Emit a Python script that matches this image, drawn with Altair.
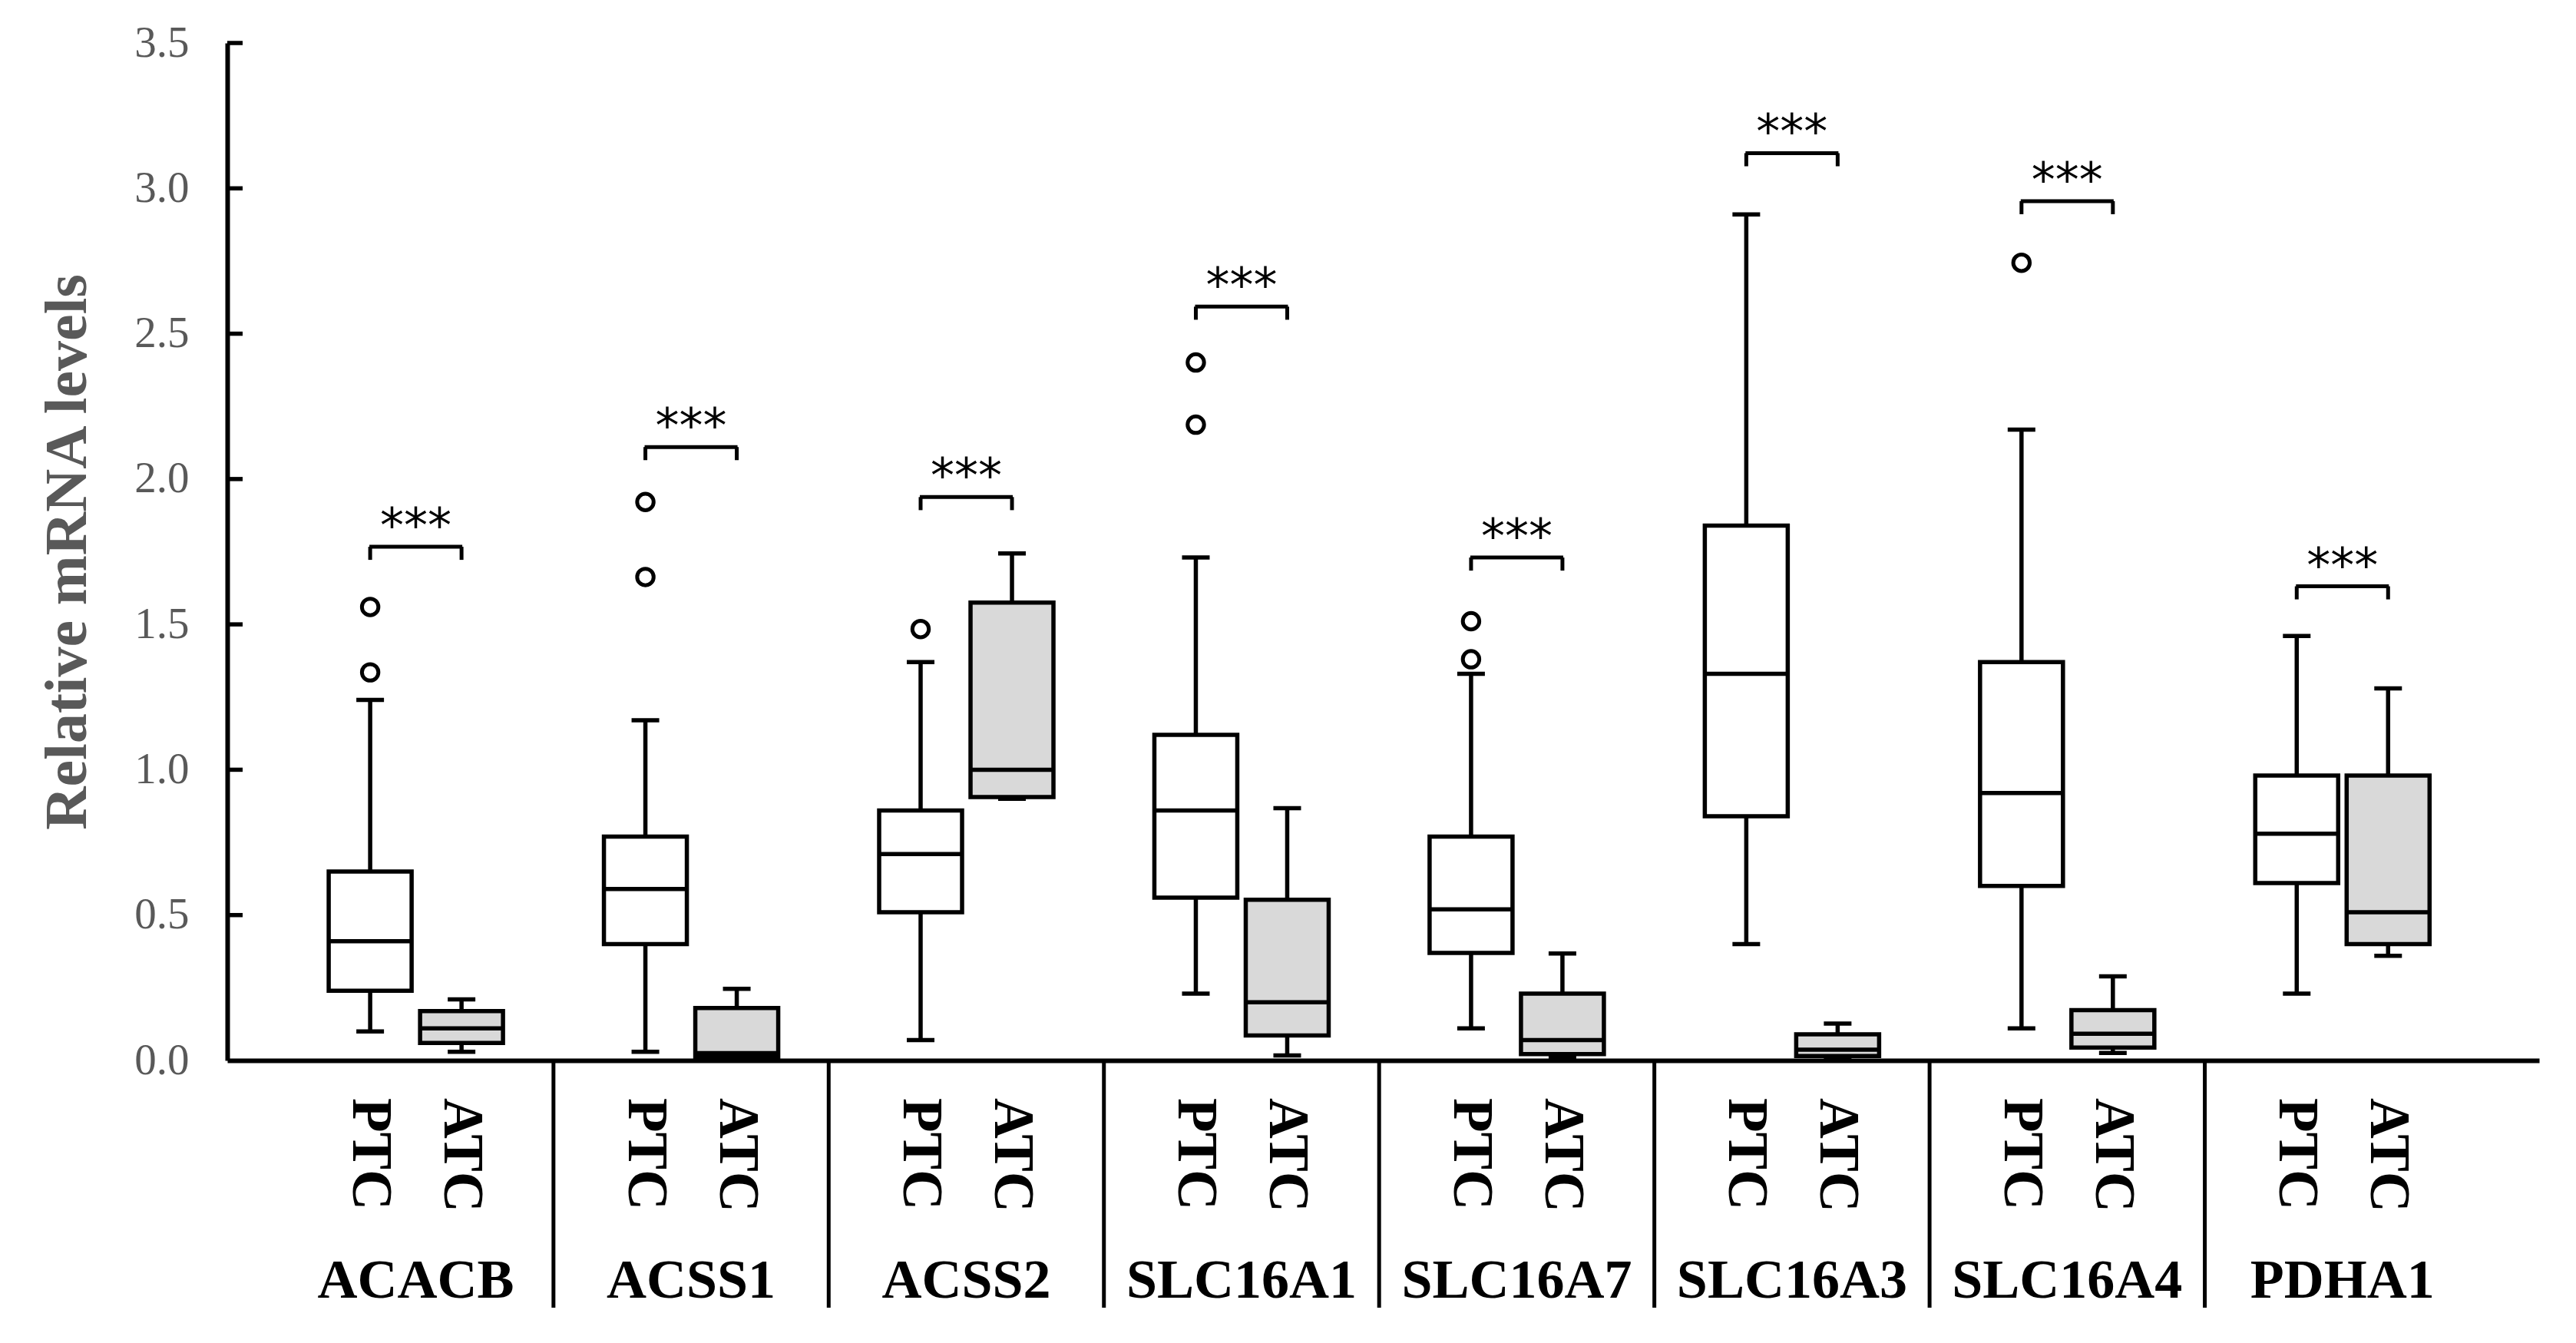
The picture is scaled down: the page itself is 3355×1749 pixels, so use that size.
import altair as alt
import pandas as pd

genes = ["ACACB", "ACSS1", "ACSS2", "SLC16A1", "SLC16A7", "SLC16A3", "SLC16A4", "PDHA1"]
groups = ["PTC", "ATC"]

# box statistics
ptc_low = [0.10, 0.03, 0.07, 0.23, 0.11, 0.40, 0.11, 0.23]
ptc_q1 = [0.24, 0.40, 0.51, 0.56, 0.37, 0.84, 0.60, 0.61]
ptc_med = [0.41, 0.59, 0.71, 0.86, 0.52, 1.33, 0.92, 0.78]
ptc_q3 = [0.65, 0.77, 0.86, 1.12, 0.77, 1.84, 1.37, 0.98]
ptc_high = [1.24, 1.17, 1.37, 1.73, 1.33, 2.91, 2.17, 1.46]

atc_low = [0.03, 0.005, 0.90, 0.017, 0.01, 0.008, 0.026, 0.36]
atc_q1 = [0.06, 0.012, 0.906, 0.086, 0.022, 0.015, 0.044, 0.40]
atc_med = [0.11, 0.025, 1.00, 0.20, 0.07, 0.037, 0.092, 0.51]
atc_q3 = [0.17, 0.18, 1.575, 0.553, 0.23, 0.09, 0.173, 0.98]
atc_high = [0.21, 0.246, 1.744, 0.868, 0.368, 0.127, 0.289, 1.28]

outlier_gene = ["ACACB", "ACACB", "ACSS1", "ACSS1", "ACSS2", "SLC16A1", "SLC16A1", "SLC16A7", "SLC16A7", "SLC16A4"]
outlier_group = ["PTC"] * 10
outlier_value = [1.335, 1.56, 1.663, 1.921, 1.484, 2.187, 2.401, 1.38, 1.511, 2.744]

bracket_level = [1.767, 2.11, 1.938, 2.593, 1.730, 3.121, 2.956, 1.631]
sig_label = ["***"] * 8

tick_values = [0.0, 0.5, 1.0, 1.5, 2.0, 2.5, 3.0, 3.5]

# ---- tables ----
rows = []
for i, g in enumerate(genes):
    rows.append(dict(gene=g, group="PTC", low=ptc_low[i], q1=ptc_q1[i], med=ptc_med[i], q3=ptc_q3[i], high=ptc_high[i]))
    rows.append(dict(gene=g, group="ATC", low=atc_low[i], q1=atc_q1[i], med=atc_med[i], q3=atc_q3[i], high=atc_high[i]))
box_df = pd.DataFrame(rows)
out_df = pd.DataFrame({"gene": outlier_gene, "group": outlier_group, "value": outlier_value})
sig_df = pd.DataFrame({"gene": genes, "bracket": bracket_level, "label": sig_label})
drop_df = pd.DataFrame([dict(gene=g, group=gr, bracket=b) for g, b in zip(genes, bracket_level) for gr in groups])
tick_df = pd.DataFrame({"v": tick_values[1:]})
div_df = pd.DataFrame({"gene": genes[1:]})
lab_df = pd.DataFrame([dict(gene=g, group=gr) for g in genes for gr in groups])
gene_df = pd.DataFrame({"gene": genes})

W, H = 3011, 1325
LW = 5.5

x_scale = alt.Scale(domain=genes, paddingInner=0, paddingOuter=0.2, align=0.463)
xo_scale = alt.Scale(domain=groups, paddingInner=0, paddingOuter=0.506)
y_scale = alt.Scale(domain=[0, 3.5], nice=False)

x_axis = alt.Axis(labels=False, ticks=False, title=None, domainColor="black", domainWidth=6, grid=False)
y_axis = alt.Axis(
    values=tick_values, format=".1f", ticks=False, tickSize=0, grid=False,
    labelFont="Liberation Serif", labelFontSize=57, labelColor="#595959", labelPadding=50,
    domainColor="black", domainWidth=6,
    title="Relative mRNA levels", titleFont="Liberation Serif", titleFontSize=78,
    titleFontWeight="bold", titleColor="#595959", titleX=-185, titleY=H / 2,
    titleAngle=270, titleAlign="center", titleBaseline="alphabetic",
)


def X(**kw):
    return alt.X("gene:N", scale=x_scale, axis=x_axis, sort=genes, **kw)


XO = alt.XOffset("group:N", scale=xo_scale, sort=groups)


def Y(field):
    return alt.Y(field, scale=y_scale, axis=y_axis)


whisk = alt.Chart(box_df).mark_rule(color="black", strokeWidth=LW).encode(
    x=X(), xOffset=XO, y=Y("low:Q"), y2="high:Q")

caps = alt.Chart(box_df).transform_fold(["low", "high"], as_=["stat", "val"]).mark_tick(
    color="black", thickness=LW, size=36, orient="horizontal", opacity=1).encode(
    x=X(), xOffset=XO, y=Y("val:Q"))

boxes = alt.Chart(box_df).mark_bar(size=108, stroke="black", strokeWidth=LW, opacity=1).encode(
    x=X(), xOffset=XO, y=Y("q1:Q"), y2="q3:Q",
    fill=alt.Fill("group:N", scale=alt.Scale(domain=groups, range=["#ffffff", "#d9d9d9"]), legend=None))

medians = alt.Chart(box_df).mark_tick(color="black", thickness=LW, size=108, orient="horizontal", opacity=1).encode(
    x=X(), xOffset=XO, y=Y("med:Q"))

outs = alt.Chart(out_df).mark_point(shape="circle", filled=False, size=460, strokeWidth=5,
                                     color="black", opacity=1).encode(
    x=X(), xOffset=XO, y=Y("value:Q"))

br_h = alt.Chart(sig_df).mark_tick(color="black", thickness=5, size=121, orient="horizontal", opacity=1).encode(
    x=X(), y=Y("bracket:Q"))

br_v = alt.Chart(drop_df).transform_calculate(b2="datum.bracket - 0.045").mark_rule(
    color="black", strokeWidth=5).encode(x=X(), xOffset=XO, y=Y("bracket:Q"), y2="b2:Q")

stars = alt.Chart(sig_df).mark_text(font="DejaVu Sans", fontSize=62, baseline="alphabetic",
                                     dy=-6, color="black").encode(
    x=X(), y=Y("bracket:Q"), text="label:N")

yticks = alt.Chart(tick_df).mark_rule(color="black", strokeWidth=LW).encode(
    y=Y("v:Q"), x=alt.value(0), x2=alt.value(20))

dividers = alt.Chart(div_df).mark_rule(color="black", strokeWidth=5).encode(
    x=X(bandPosition=0), y=alt.value(H), y2=alt.value(H + 322))

grp_labels = alt.Chart(lab_df).mark_text(angle=90, align="left", baseline="middle",
                                          font="Liberation Serif", fontWeight="bold",
                                          fontSize=73, color="black").encode(
    x=X(), xOffset=XO, y=alt.value(H + 49), text="group:N")

gene_labels = alt.Chart(gene_df).mark_text(baseline="alphabetic", font="Liberation Serif",
                                            fontWeight="bold", fontSize=72, color="black").encode(
    x=X(), y=alt.value(H + 309), text="gene:N")

chart = alt.layer(
    whisk, boxes, medians, caps, outs, br_h, br_v, stars, yticks, dividers, grp_labels, gene_labels
).properties(
    width=W, height=H,
    padding={"left": 288, "top": 48, "right": 40, "bottom": 360},
    autosize=alt.AutoSizeParams(type="none"),
    background="white",
).configure_view(stroke=None)

chart.save("out.html", embed_options={"renderer": "svg", "actions": False})
